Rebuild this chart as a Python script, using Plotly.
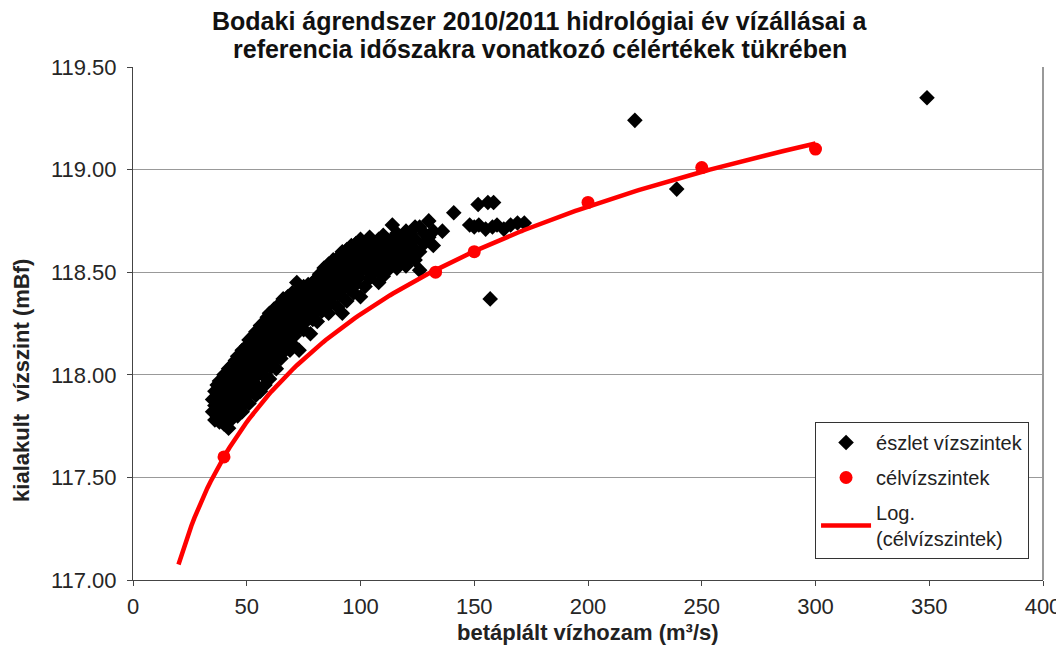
import numpy as np
import plotly.graph_objects as go

# célvízszintek (target levels)
cel_q = [40, 133, 150, 200, 250, 300]
cel_h = [117.60, 118.50, 118.60, 118.84, 119.01, 119.10]

# észlet vízszintek (observed levels), grouped by discharge
eszlet_q = [35, 36, 37, 38, 39, 40, 41, 42, 43, 44, 45, 46, 47, 48, 49, 50,
            51, 52, 53, 54, 55, 56, 57, 58, 59, 60, 61, 62, 63, 64, 65, 66,
            67, 68, 69, 70, 71, 72, 73, 74, 75, 76, 77, 78, 79, 80, 81, 82,
            83, 84, 85, 86, 87, 88, 89, 90, 91, 92, 93, 94, 95, 96, 97, 98,
            99, 100, 102, 104, 106, 108, 110, 112, 114, 116, 118, 120, 122,
            124, 126, 128, 130, 132, 136, 141,
            148, 150, 152, 155, 158, 160, 163, 166, 169, 172, 151.7, 156,
            158.5, 157, 220.6, 239, 349]
eszlet_h = [
    [117.82, 117.88], [117.78, 117.85, 117.92], [117.80, 117.86, 117.95],
    [117.77, 117.83, 117.90, 117.97], [117.79, 117.86, 117.93],
    [117.76, 117.82, 117.89, 117.96, 118.00], [117.80, 117.87, 117.93],
    [117.74, 117.84, 117.91, 117.98, 118.03], [117.78, 117.88, 117.95, 118.01],
    [117.81, 117.90, 117.97, 118.05], [117.85, 117.93, 118.00, 118.07],
    [117.80, 117.88, 117.96, 118.04, 118.09], [117.84, 117.92, 118.00, 118.06],
    [117.82, 117.90, 117.98, 118.05, 118.12], [117.87, 117.95, 118.03, 118.10],
    [117.90, 117.98, 118.06, 118.14], [117.86, 117.94, 118.02, 118.09, 118.17],
    [117.92, 118.00, 118.07, 118.13], [117.96, 118.04, 118.11, 118.19],
    [117.90, 117.99, 118.07, 118.14, 118.21], [117.94, 118.02, 118.10, 118.17],
    [117.92, 118.05, 118.12, 118.20, 118.24], [118.00, 118.08, 118.15, 118.22],
    [117.95, 118.03, 118.11, 118.18, 118.26], [118.06, 118.13, 118.21, 118.28],
    [117.98, 118.09, 118.16, 118.23, 118.30], [118.04, 118.12, 118.19, 118.26],
    [118.07, 118.15, 118.22, 118.29, 118.32], [118.03, 118.10, 118.18, 118.25],
    [118.13, 118.20, 118.27, 118.34], [118.08, 118.16, 118.23, 118.30],
    [118.11, 118.19, 118.26, 118.33, 118.37], [118.14, 118.22, 118.29, 118.35],
    [118.17, 118.24, 118.31, 118.38], [118.12, 118.20, 118.27, 118.34],
    [118.15, 118.23, 118.30, 118.37, 118.40], [118.19, 118.26, 118.33, 118.39],
    [118.22, 118.29, 118.36, 118.45], [118.12, 118.25, 118.32, 118.38],
    [118.28, 118.35, 118.41], [118.22, 118.30, 118.37, 118.43],
    [118.26, 118.33, 118.40], [118.29, 118.36, 118.42, 118.44],
    [118.20, 118.32, 118.39], [118.27, 118.35, 118.41, 118.45],
    [118.30, 118.38, 118.44], [118.26, 118.33, 118.40, 118.47],
    [118.36, 118.43, 118.49], [118.31, 118.39, 118.46],
    [118.34, 118.41, 118.48, 118.52], [118.37, 118.44, 118.50],
    [118.30, 118.40, 118.47, 118.54], [118.35, 118.43, 118.50],
    [118.38, 118.46, 118.52, 118.56], [118.41, 118.48, 118.55],
    [118.33, 118.44, 118.51, 118.57], [118.39, 118.47, 118.53],
    [118.30, 118.42, 118.50, 118.56, 118.60], [118.45, 118.52, 118.58],
    [118.36, 118.48, 118.55, 118.61], [118.42, 118.50, 118.57],
    [118.45, 118.53, 118.59, 118.63], [118.40, 118.48, 118.56, 118.61],
    [118.44, 118.51, 118.58, 118.64], [118.47, 118.54, 118.60],
    [118.38, 118.50, 118.56, 118.62, 118.66], [118.43, 118.52, 118.59, 118.64],
    [118.47, 118.55, 118.61, 118.67], [118.50, 118.57, 118.63],
    [118.45, 118.53, 118.60, 118.66], [118.48, 118.55, 118.62, 118.68],
    [118.51, 118.58, 118.64], [118.54, 118.60, 118.66, 118.73],
    [118.52, 118.57, 118.63, 118.69], [118.55, 118.61, 118.67],
    [118.53, 118.59, 118.65, 118.70], [118.57, 118.63, 118.68],
    [118.56, 118.61, 118.66, 118.72], [118.51, 118.60, 118.72],
    [118.64, 118.69], [118.67, 118.75], [118.63, 118.70], [118.70], [118.79],
    [118.73], [118.72], [118.73], [118.71], [118.72], [118.73], [118.71],
    [118.73], [118.74], [118.74], [118.83], [118.84], [118.84], [118.37],
    [119.24], [118.905], [119.35],
]

x_ticks = [0, 50, 100, 150, 200, 250, 300, 350, 400]
y_ticks = [117.0, 117.5, 118.0, 118.5, 119.0, 119.5]

title_lines = ['Bodaki ágrendszer 2010/2011 hidrológiai év vízállásai a',
               'referencia időszakra vonatkozó célértékek tükrében']
x_title = 'betáplált vízhozam (m³/s)'
y_title = 'kialakult  vízszint (mBf)'

obs_x = [q for q, hs in zip(eszlet_q, eszlet_h) for _ in hs]
obs_y = [h for hs in eszlet_h for h in hs]

# Log trendline through the target levels (as in Excel)
a, b = np.polyfit(np.log(cel_q), cel_h, 1)
trend_x = np.linspace(20, 300, 200)
trend_y = a * np.log(trend_x) + b

fig = go.Figure()
fig.add_trace(go.Scatter(x=obs_x, y=obs_y, mode='markers', name='észlet vízszintek',
                         legendgroup='a', legendrank=1,
                         marker=dict(symbol='diamond', size=12, color='black')))
fig.add_trace(go.Scatter(x=trend_x, y=trend_y, mode='lines', name='Log.<br>(célvízszintek)',
                         legendgroup='c', legendrank=3,
                         line=dict(color='#ff0000', width=4.5)))
fig.add_trace(go.Scatter(x=cel_q, y=cel_h, mode='markers', name='célvízszintek',
                         legendgroup='b', legendrank=2,
                         marker=dict(symbol='circle', size=13, color='#ff0000')))

# page body has an 8px margin, so the figure is a bit smaller than the window
fig.update_layout(
    width=1056, height=638,
    paper_bgcolor='white', plot_bgcolor='white',
    margin=dict(l=125, r=21, t=59, b=66),
    font=dict(family='Arial, Liberation Sans, sans-serif', size=22, color='#262626'),
    showlegend=True,
    legend=dict(x=0.7495, y=0.308, xanchor='left', yanchor='top',
                bgcolor='white', bordercolor='#333333', borderwidth=1,
                font=dict(size=20, color='#222222'), traceorder='grouped',
                tracegroupgap=6, itemwidth=50),
    xaxis=dict(range=[0, 400], tickvals=x_ticks, showgrid=False, zeroline=False,
               showline=True, linecolor='#444444', linewidth=1, automargin=False,
               ticks='outside', ticklen=5, tickcolor='#444444', ticklabelstandoff=2),
    yaxis=dict(range=[117.0, 119.5], tickvals=y_ticks, tickformat='.2f',
               showgrid=True, gridcolor='#999999', gridwidth=1, zeroline=False,
               showline=True, linecolor='#444444', linewidth=1, automargin=False,
               ticks='outside', ticklen=5, tickcolor='#444444', ticklabelstandoff=6),
)
fig.add_annotation(text='<b>' + title_lines[0] + '</b>', xref='paper', yref='paper',
                   x=0.447, y=1.0897, xanchor='center', yanchor='middle',
                   showarrow=False, font=dict(size=25, color='#111111'))
fig.add_annotation(text='<b>' + title_lines[1] + '</b>', xref='paper', yref='paper',
                   x=0.447, y=1.035, xanchor='center', yanchor='middle',
                   showarrow=False, font=dict(size=25, color='#111111'))
fig.add_annotation(text='<b>' + x_title + '</b>', xref='paper', yref='paper',
                   x=0.5, y=-0.103, xanchor='center', yanchor='middle',
                   showarrow=False, font=dict(size=22, color='#222222'))
fig.add_annotation(text='<b>' + y_title + '</b>', xref='paper', yref='paper',
                   x=-0.122, y=0.39, xanchor='center', yanchor='middle', textangle=-90,
                   showarrow=False, font=dict(size=22, color='#222222'))
# right frame of the plot area
fig.add_shape(type='line', xref='paper', yref='paper', x0=1, x1=1, y0=0, y1=1,
              line=dict(color='#999999', width=2))

fig.write_html("out.html")
